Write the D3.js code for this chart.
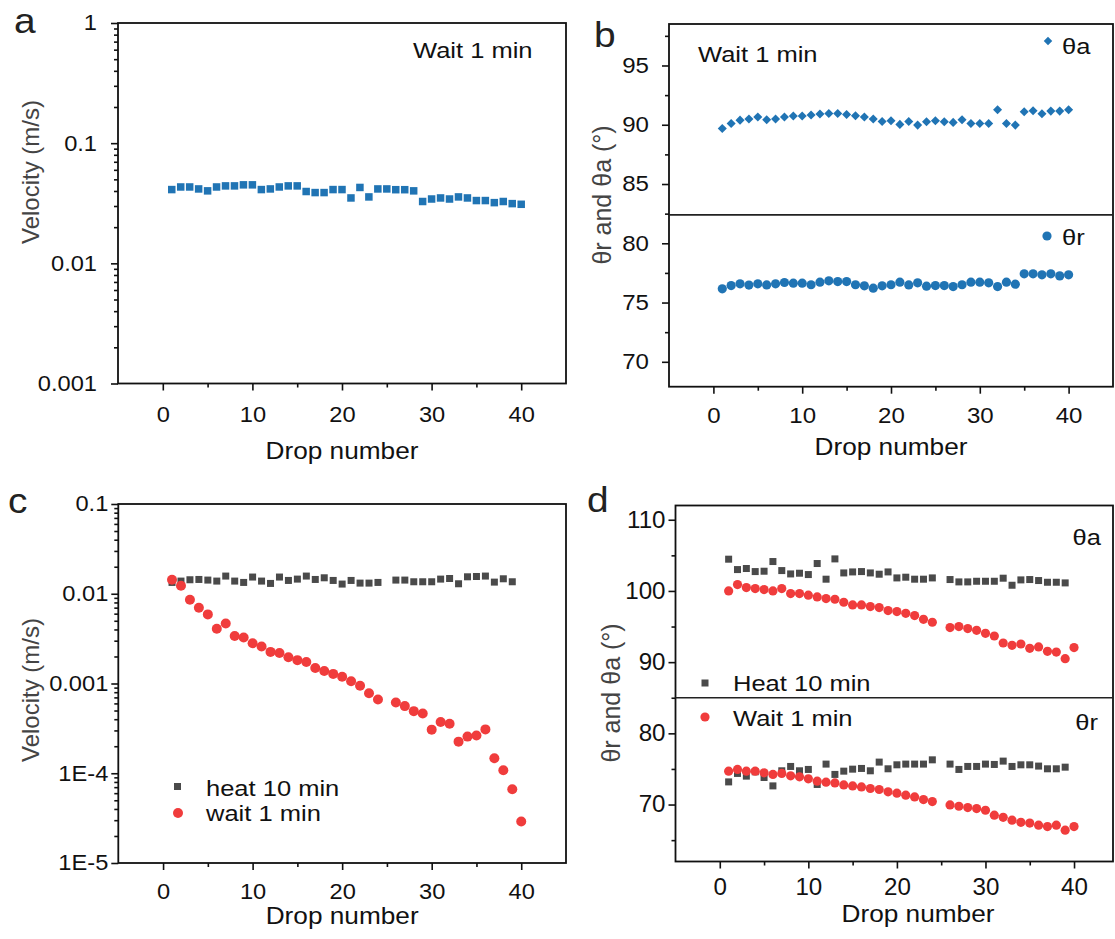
<!DOCTYPE html>
<html><head><meta charset="utf-8">
<script src="https://cdn.jsdelivr.net/npm/d3@7"></script>
<style>body{margin:0;background:#fff}svg{display:block;font-family:"Liberation Sans",Arial,sans-serif}</style>
</head><body><svg id="chart" width="1115" height="939"></svg>
<script>
// ---------- data ----------
const drops = d3.range(1, 41);
const xTicks = [0, 10, 20, 30, 40];
const xMinorTicks = [5, 15, 25, 35];

const aTickValues = [1, 0.1, 0.01, 0.001];
const aTickLabels = ["1", "0.1", "0.01", "0.001"];
const aVelocity = [0.0411,0.0432,0.0432,0.0416,0.0401,0.0432,0.0441,0.0441,0.045,0.045,0.0411,0.0416,0.0432,0.0441,0.0441,0.0396,0.0388,0.0388,0.0411,0.0411,0.035,0.0428,0.0357,0.0416,0.0416,0.041,0.041,0.0401,0.0327,0.0343,0.035,0.0343,0.0357,0.035,0.0333,0.0333,0.032,0.0327,0.0314,0.031];

const bTickValues = [70, 75, 80, 85, 90, 95];
const bMinorTicks = [72.5, 77.5, 82.5, 87.5, 92.5, 97.5];
const bThetaA = [89.69,90.11,90.39,90.48,90.65,90.42,90.48,90.65,90.73,90.73,90.82,90.9,90.95,90.95,90.87,90.76,90.65,90.48,90.28,90.34,90.03,90.28,89.97,90.25,90.34,90.25,90.2,90.42,90.11,90.11,90.11,91.26,90.11,89.97,91.1,91.18,90.93,91.15,91.15,91.26];
const bThetaR = [76.16,76.43,76.58,76.47,76.58,76.49,76.58,76.69,76.63,76.63,76.5,76.72,76.83,76.77,76.77,76.5,76.41,76.21,76.41,76.5,76.72,76.49,76.66,76.38,76.43,76.43,76.35,76.5,76.72,76.72,76.66,76.35,76.72,76.55,77.42,77.42,77.34,77.42,77.25,77.34];

const cTickValues = [0.1, 0.01, 0.001, 1e-4, 1e-5];
const cTickLabels = ["0.1", "0.01", "0.001", "1E-4", "1E-5"];
const cHeat = [0.01337,0.01384,0.01432,0.01443,0.0142,0.01384,0.01574,0.01384,0.01337,0.01535,0.01384,0.01303,0.01535,0.01407,0.01456,0.01574,0.01443,0.01506,0.01407,0.01282,0.01407,0.01314,0.01314,0.01337,null,0.0142,0.0142,0.0136,0.0136,0.0136,0.01456,0.01479,0.01292,0.01545,0.01557,0.01574,0.01348,0.01468,0.0136,null];
const cWait = [0.01432,0.01227,0.00858,0.00699,0.00589,0.00408,0.00467,0.00339,0.00325,0.00281,0.00258,0.00225,0.00219,0.00196,0.00182,0.00174,0.00149,0.00138,0.00128,0.00119,0.00106,0.000942,0.00078,0.000664,null,0.000615,0.00056,0.000492,0.000464,0.000306,0.000372,0.000356,0.000225,0.000256,0.000264,0.000308,0.000147,0.000108,0.0000664,0.000029];

const dTickValues = [70, 80, 90, 100, 110];
const dMinorTicks = [65, 75, 85, 95, 105];
const dHeatA = [104.46,103.0,103.15,102.72,102.77,104.13,102.86,102.39,102.49,102.3,103.85,101.65,104.5,102.53,102.67,102.72,102.53,102.35,102.67,101.83,101.93,101.65,101.65,101.83,null,101.6,101.27,101.27,101.36,101.36,101.36,101.79,100.8,101.55,101.6,101.46,101.22,101.22,101.13,null];
const dWaitA = [100.0,100.9,100.47,100.33,100.19,100.0,100.33,99.63,99.63,99.4,99.16,98.93,98.83,98.41,98.03,98.03,97.8,97.66,97.24,97.1,96.86,96.54,96.02,95.6,null,94.85,94.99,94.71,94.47,94.05,93.67,92.69,92.36,92.55,91.94,92.13,91.52,91.42,90.49,92.04];
const dHeatR = [73.18,74.37,73.99,74.6,73.8,72.62,74.74,75.35,74.74,74.93,72.82,75.68,74.23,74.69,74.97,75.07,74.74,75.96,75.02,75.58,75.68,75.68,75.68,76.28,null,75.68,74.93,75.35,75.35,75.68,75.63,76.1,75.35,75.58,75.58,75.4,75.02,75.02,75.25,null];
const dWaitR = [74.69,74.93,74.69,74.69,74.46,74.23,74.37,74.03,73.89,73.61,73.28,73.14,73.04,72.76,72.62,72.48,72.25,72.11,71.78,71.59,71.31,71.07,70.7,70.42,null,69.94,69.76,69.58,69.44,69.2,68.5,68.2,67.8,67.5,67.4,67.1,66.9,67.1,66.4,66.9];

// ---------- styles ----------
const BLUE = "#2074b4", GRAY = "#4a4a4a", RED = "#f03c3c";
const TXT_SX = 1.16;   // horizontal widening of free text
const svg = d3.select("#chart");

function pts(values) {
  return drops.map((d, i) => ({x: d, y: values[i]})).filter(p => p.y != null);
}
function widen(sel, sx) {
  sel.each(function () {
    const t = d3.select(this);
    const x = +t.attr("x") || 0;
    t.attr("x", x / sx).attr("transform", `scale(${sx},1)`);
  });
}

function panel(o) {
  const g = svg.append("g");
  const x = d3.scaleLinear().domain(o.xDomain).range([o.L, o.R]);
  const y = o.log ? d3.scaleLog().domain(o.yDomain).range([o.B, o.T])
                  : d3.scaleLinear().domain(o.yDomain).range([o.B, o.T]);
  const xa = g.append("g").attr("transform", `translate(0,${o.B})`)
    .call(d3.axisBottom(x).tickValues(xTicks).tickSize(7).tickPadding(o.xPad).tickSizeOuter(0));
  xa.selectAll("text").attr("font-size", o.tickFont).attr("fill", "#111").call(widen, o.tickSX);
  g.append("g").attr("transform", `translate(0,${o.B})`)
    .call(d3.axisBottom(x).tickValues(xMinorTicks).tickSize(4).tickFormat("").tickSizeOuter(0));
  let ya;
  if (o.log) {
    ya = g.append("g").attr("transform", `translate(${o.L},0)`)
      .call(d3.axisLeft(y).tickValues(o.yTicks).tickSize(7).tickPadding(o.yPad)
        .tickFormat((d, i) => o.yLabels[i]).tickSizeOuter(0));
    const minor = [];
    const [lo, hi] = o.yDomain;
    for (let dec = lo; dec < hi * 0.999; dec *= 10)
      for (let k = 2; k <= 9; k++) minor.push(dec * k);
    g.append("g").attr("transform", `translate(${o.L},0)`)
      .call(d3.axisLeft(y).tickValues(minor).tickSize(4).tickFormat("").tickSizeOuter(0));
  } else {
    ya = g.append("g").attr("transform", `translate(${o.L},0)`)
      .call(d3.axisLeft(y).tickValues(o.yTicks).tickSize(7).tickPadding(o.yPad).tickSizeOuter(0));
    g.append("g").attr("transform", `translate(${o.L},0)`)
      .call(d3.axisLeft(y).tickValues(o.yMinor).tickSize(4).tickFormat("").tickSizeOuter(0));
  }
  ya.selectAll("text").attr("font-size", o.tickFont).attr("fill", "#111").call(widen, o.tickSX);
  g.selectAll(".domain").remove();
  g.selectAll(".tick line").attr("stroke", "#111").attr("stroke-width", 1.6);
  g.append("rect").attr("x", o.L).attr("y", o.T).attr("width", o.R - o.L).attr("height", o.B - o.T)
    .attr("fill", "none").attr("stroke", "#111").attr("stroke-width", 1.8);
  if (o.divider != null)
    g.append("line").attr("x1", o.L).attr("x2", o.R).attr("y1", y(o.divider)).attr("y2", y(o.divider))
      .attr("stroke", "#222").attr("stroke-width", 1.6);
  label({g}, o.xTitleX != null ? o.xTitleX : (o.L + o.R) / 2, o.xTitleY, "Drop number", 23, "middle", 1.14);
  g.append("text").attr("transform", `translate(${o.yTitleX},${o.yTitleY}) rotate(-90)`)
    .attr("text-anchor", "middle").attr("font-size", o.yTitleFont).attr("fill", "#444").text(o.yTitle);
  label({g}, o.letterX, o.letterY, o.letter, 36, "start", 1.08, "#222");
  return {g, x, y};
}

function squares(p, data, size, color) {
  p.g.append("g").selectAll("rect").data(pts(data)).join("rect")
    .attr("x", d => p.x(d.x) - size / 2).attr("y", d => p.y(d.y) - size / 2)
    .attr("width", size).attr("height", size).attr("fill", color);
}
function circles(p, data, r, color) {
  p.g.append("g").selectAll("circle").data(pts(data)).join("circle")
    .attr("cx", d => p.x(d.x)).attr("cy", d => p.y(d.y)).attr("r", r).attr("fill", color);
}
function diamonds(p, data, side, color) {
  p.g.append("g").selectAll("rect").data(pts(data)).join("rect")
    .attr("x", -side / 2).attr("y", -side / 2).attr("width", side).attr("height", side)
    .attr("transform", d => `translate(${p.x(d.x)},${p.y(d.y)}) rotate(45)`).attr("fill", color);
}
function label(p, x, y, txt, size, anchor, sx, color) {
  p.g.append("text").attr("transform", `translate(${x},${y}) scale(${sx || TXT_SX},1)`)
    .attr("font-size", size).attr("fill", color || "#111")
    .attr("text-anchor", anchor || "start").text(txt);
}

// ---------- panel a ----------
const pa = panel({L: 118, R: 566, T: 23, B: 383.5, xDomain: [-5, 45], yDomain: [0.001, 1], log: true,
  yTicks: aTickValues, yLabels: aTickLabels, tickFont: 21.5, tickSX: 1.1, xPad: 16, yPad: 14,
  xTitleY: 459, yTitleX: 39, yTitleY: 172, yTitleFont: 24, yTitle: "Velocity (m/s)", letter: "a", letterX: 14, letterY: 33});
squares(pa, aVelocity, 7.5, BLUE);
label(pa, 413, 58, "Wait 1 min", 22);

// ---------- panel b ----------
const pb = panel({L: 669, R: 1113, T: 24, B: 386.7, xDomain: [-5, 45], yDomain: [67.9, 98.5], log: false,
  yTicks: bTickValues, yMinor: bMinorTicks, tickFont: 21.5, tickSX: 1.12, xPad: 14, yPad: 13,
  xTitleY: 455, yTitleX: 611, yTitleY: 195, yTitleFont: 25, yTitle: "θr and θa (°)", letter: "b", letterX: 594, letterY: 47,
  divider: 82.4});
diamonds(pb, bThetaA, 6.4, BLUE);
circles(pb, bThetaR, 4.6, BLUE);
label(pb, 698, 62, "Wait 1 min", 22);
pb.g.append("rect").attr("x", -3).attr("y", -3).attr("width", 6).attr("height", 6)
  .attr("transform", "translate(1048,41) rotate(45)").attr("fill", BLUE);
label(pb, 1062, 54, "θa", 22);
pb.g.append("circle").attr("cx", 1047).attr("cy", 236).attr("r", 4.6).attr("fill", BLUE);
label(pb, 1062, 245, "θr", 22);

// ---------- panel c ----------
const pc = panel({L: 118.3, R: 566, T: 504, B: 863, xDomain: [-5, 45], yDomain: [1e-5, 0.1], log: true,
  yTicks: cTickValues, yLabels: cTickLabels, tickFont: 21.5, tickSX: 1.1, xPad: 14, yPad: 3,
  xTitleY: 924, yTitleX: 39, yTitleY: 690, yTitleFont: 24, yTitle: "Velocity (m/s)", letter: "c", letterX: 8, letterY: 513});
squares(pc, cHeat, 7, GRAY);
circles(pc, cWait, 5, RED);
pc.g.append("rect").attr("x", 174).attr("y", 783).attr("width", 7).attr("height", 7).attr("fill", GRAY);
label(pc, 206, 796, "heat 10 min", 22);
pc.g.append("circle").attr("cx", 178).attr("cy", 813).attr("r", 5).attr("fill", RED);
label(pc, 206, 821, "wait 1 min", 22);

// ---------- panel d ----------
const pd = panel({L: 675.5, R: 1113, T: 505.5, B: 861.5, xDomain: [-5, 44.4], yDomain: [62, 112], log: false,
  yTicks: dTickValues, yMinor: dMinorTicks, tickFont: 23, tickSX: 1.05, xPad: 10, yPad: 3,
  xTitleX: 918, xTitleY: 922, yTitleX: 620, yTitleY: 693, yTitleFont: 25, yTitle: "θr and θa (°)", letter: "d", letterX: 587, letterY: 512,
  divider: 85});
squares(pd, dHeatA, 7, GRAY);
squares(pd, dHeatR, 7, GRAY);
circles(pd, dWaitA, 4.6, RED);
circles(pd, dWaitR, 4.6, RED);
label(pd, 1101, 545, "θa", 22, "end");
label(pd, 1098, 730, "θr", 22, "end");
pd.g.append("rect").attr("x", 701.5).attr("y", 679.5).attr("width", 7).attr("height", 7).attr("fill", GRAY);
label(pd, 733, 691, "Heat 10 min", 22);
pd.g.append("circle").attr("cx", 705).attr("cy", 717).attr("r", 4.6).attr("fill", RED);
label(pd, 733, 726, "Wait 1 min", 22);
</script></body></html>
